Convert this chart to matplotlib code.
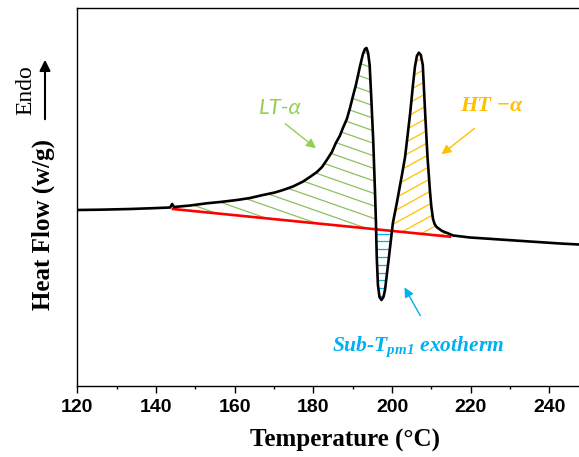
import numpy as np
import matplotlib.pyplot as plt
from matplotlib.patches import Polygon
from matplotlib.collections import LineCollection

plt.rcParams['font.family'] = ['Liberation Sans', 'DejaVu Sans']
plt.rcParams['mathtext.fontset'] = 'custom'
plt.rcParams['mathtext.it'] = 'Liberation Serif:italic:bold'
plt.rcParams['mathtext.rm'] = 'Liberation Serif:italic:bold'
plt.rcParams['mathtext.bf'] = 'Liberation Serif:italic:bold'

# DSC curve (temperature in C, heat flow arbitrary w/g)
temp = [120.0, 125.8, 133.4, 138.5, 143.6, 144.1, 144.6, 148.7, 152.9, 156.3,
        160.6, 163.9, 167.2, 170.2, 172.3, 174.8, 177.3, 179.1, 180.9, 182.2,
        183.4, 184.7, 185.7, 186.7, 187.5, 188.5, 189.3, 190.0, 190.8, 191.8,
        192.6, 193.1, 193.5, 193.9, 194.3, 194.7, 195.2, 195.7, 195.9, 196.1,
        196.4, 196.8, 197.3, 197.8, 198.2, 199.2, 200.2, 201.2, 201.8, 202.5,
        203.3, 204.6, 205.3, 205.8, 206.3, 206.8, 207.3, 207.8, 208.4, 209.0,
        209.6, 209.95, 210.4, 210.8, 211.3, 212.7, 214.0, 215.5, 219.8, 227.4,
        235.0, 242.7, 247.5]
flow = [0.00, 0.003, 0.01, 0.017, 0.025, 0.06, 0.03, 0.045, 0.067, 0.08,
        0.10, 0.12, 0.15, 0.175, 0.20, 0.235, 0.283, 0.33, 0.38, 0.43,
        0.50, 0.58, 0.67, 0.74, 0.82, 0.91, 1.02, 1.13, 1.25, 1.43,
        1.56, 1.61, 1.62, 1.57, 1.45, 1.13, 0.70, 0.13, -0.13, -0.47,
        -0.75, -0.87, -0.90, -0.87, -0.80, -0.47, -0.13, 0.07, 0.20, 0.35,
        0.53, 0.97, 1.25, 1.43, 1.54, 1.573, 1.55, 1.45, 0.97, 0.53,
        0.20, 0.04, -0.09, -0.14, -0.17, -0.21, -0.23, -0.255, -0.275, -0.295,
        -0.315, -0.335, -0.345]

# linear baseline (red)
base_temp = [144.3, 214.7]
base_flow = [0.01, -0.267]

xticks = [120, 140, 160, 180, 200, 220, 240]
xminor = [130, 150, 170, 190, 210, 230]

green = '#92D050'
yellow = '#FFC000'
blue = '#00B0F0'

fig = plt.figure(figsize=(5.79, 4.57), dpi=100)
ax = fig.add_axes([77.3 / 579, 71 / 457, (579 - 77.3) / 579, 378 / 457])
ax.set_xlim(120, 247.5)
ax.set_ylim(-1.76, 2.02)

ax.plot(temp, flow, color='black', lw=1.9, zorder=5, solid_joinstyle='round')
ax.plot(base_temp, base_flow, color='#FF0000', lw=1.9, zorder=4)

# areas between curve and baseline
tg = np.linspace(base_temp[0], base_temp[1], 3000)
cg = np.interp(tg, temp, flow)
bg = np.interp(tg, base_temp, base_flow)


def region(mask):
    xy = np.vstack([np.column_stack([tg[mask], cg[mask]]),
                    np.column_stack([tg[mask][::-1], bg[mask][::-1]])])
    p = Polygon(xy, closed=True, facecolor='none', edgecolor='none')
    ax.add_patch(p)
    return p


def hatch(poly, slope, gap, color, lw=0.9):
    # parallel lines (slope in pixels) clipped to the area
    pts = ax.transData.transform(poly.get_xy())
    x0, y0 = pts.min(axis=0)
    x1, y1 = pts.max(axis=0)
    cs = [y0 - slope * x0, y0 - slope * x1, y1 - slope * x0, y1 - slope * x1]
    inv = ax.transData.inverted()
    segs = []
    for c in np.arange(min(cs) + gap / 2, max(cs), gap):
        seg = np.array([[x0, slope * x0 + c], [x1, slope * x1 + c]])
        segs.append(inv.transform(seg))
    lc = LineCollection(segs, colors=color, linewidths=lw, zorder=3)
    ax.add_collection(lc, autolim=False)
    lc.set_clip_path(poly)


above = cg >= bg
p_lt = region(above & (tg < 197))
p_sub = region(~above)
p_ht = region(above & (tg > 199))
hatch(p_lt, -0.35, 12.5, '#8DC063')
hatch(p_sub, 0.0, 7.8, blue)
hatch(p_ht, 0.55, 12.5, yellow)

# labels and arrows
ax.text(171.5, 1.02, 'LT-α', color=green, fontsize=16, style='italic',
        family=['Lato', 'DejaVu Sans'], ha='center', va='center')
ax.annotate('', xy=(181.2, 0.60), xytext=(172.3, 0.88),
            arrowprops=dict(arrowstyle='-|>', color=green, lw=1, mutation_scale=14))
ax.text(225.3, 1.04, 'HT −α', color=yellow, fontsize=16, style='italic',
        weight='bold', family=['Liberation Serif', 'DejaVu Serif'],
        ha='center', va='center')
ax.annotate('', xy=(212.0, 0.54), xytext=(221.5, 0.833),
            arrowprops=dict(arrowstyle='-|>', color=yellow, lw=1, mutation_scale=14))
ax.text(206.6, -1.37, r'Sub-$T_{pm1}$ exotherm', color=blue, fontsize=15.5,
        style='italic', weight='bold', family='Liberation Serif',
        ha='center', va='center')
ax.annotate('', xy=(202.8, -0.75), xytext=(207.5, -1.08),
            arrowprops=dict(arrowstyle='-|>', color=blue, lw=1, mutation_scale=14))

ax.set_xticks(xticks)
ax.set_xticks(xminor, minor=True)
ax.set_xticklabels([str(t) for t in xticks], fontsize=14, weight='bold')
ax.tick_params(axis='x', which='major', direction='out', length=5, width=1, pad=4)
ax.tick_params(axis='x', which='minor', direction='out', length=2.5, width=1)
ax.set_yticks([])
ax.spines['right'].set_visible(False)
for s in ['left', 'bottom', 'top']:
    ax.spines[s].set_linewidth(1)

fig.text(345 / 579, 1 - 440 / 457, 'Temperature (°C)', fontsize=18, weight='bold',
         family='Liberation Serif', ha='center', va='center')
fig.text(43 / 579, 1 - 224 / 457, 'Heat Flow (w/g)', fontsize=18, weight='bold',
         family='Liberation Serif', ha='center', va='center', rotation=90)
fig.text(26 / 579, 1 - 90 / 457, 'Endo', fontsize=17, family='Liberation Serif',
         ha='center', va='center', rotation=90)
ax.annotate('', xy=(45 / 579, 1 - 57 / 457), xytext=(45 / 579, 1 - 122 / 457),
            xycoords='figure fraction', textcoords='figure fraction',
            arrowprops=dict(arrowstyle='-|>', color='black', lw=1.5, mutation_scale=16))

fig.savefig('out.png', dpi=100)
